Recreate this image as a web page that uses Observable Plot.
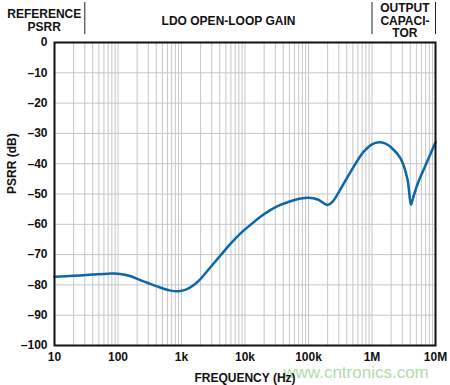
<!DOCTYPE html>
<html>
<head>
<meta charset="utf-8">
<script src="https://cdn.jsdelivr.net/npm/d3@7"></script>
<script src="https://cdn.jsdelivr.net/npm/@observablehq/plot@0.6"></script>
<style>
  html, body { margin: 0; padding: 0; background: #fff; }
  #chart svg { display: block; }
</style>
</head>
<body>
<div id="chart"></div>
<script>
// ---- data ----
const freq = [10, 20, 40, 70, 100, 150, 230, 400, 650, 900, 1200, 1600, 2000, 2900, 4100, 6000, 8500, 12000, 17500, 25000, 36000, 52000, 75000, 100000, 140000, 200000, 240000, 290000, 460000, 740000, 1000000, 1280000, 1600000, 1950000, 2800000, 3600000, 4100000, 4300000, 5200000, 7400000, 10000000];
const psrr = [-77.3, -77.0, -76.6, -76.3, -76.3, -77.0, -78.5, -80.4, -81.8, -82.1, -81.5, -79.9, -78.0, -74.0, -70.3, -66.3, -63.0, -60.3, -57.5, -55.3, -53.6, -52.4, -51.5, -51.2, -51.8, -53.6, -52.5, -49.9, -42.7, -36.0, -33.6, -32.9, -33.3, -34.4, -38.2, -44.9, -53.6, -52.3, -46.8, -39.3, -32.9];

const xTicks = [10, 100, 1e3, 1e4, 1e5, 1e6, 1e7];
const xTickLabels = ["10", "100", "1k", "10k", "100k", "1M", "10M"];
const yTicks = [0, -10, -20, -30, -40, -50, -60, -70, -80, -90, -100];
const yTickLabels = ["0", "–10", "–20", "–30", "–40", "–50", "–60", "–70", "–80", "–90", "–100"];

const regionBounds = [30, 1e6, 1e7];
const regionTitles = ["REFERENCE\nPSRR", "LDO OPEN-LOOP GAIN", "OUTPUT\nCAPACI-\nTOR"];
const regionCenters = [6.9, 5500, 3.3e6];

const xLabel = "FREQUENCY (Hz)";
const yLabel = "PSRR (dB)";
const watermark = "www.cntronics.com";

// ---- build ----
const data = freq.map((f, i) => ({f, v: psrr[i]}));
const xLabelMap = new Map(xTicks.map((t, i) => [t, xTickLabels[i]]));
const yLabelMap = new Map(yTicks.map((t, i) => [t, yTickLabels[i]]));
const minorGrid = [];
for (let k = 1; k <= 6; k++) for (let m = 1; m <= 9; m++) minorGrid.push(m * 10 ** k);
minorGrid.push(1e7);
const titles = regionTitles.map((t, i) => ({t, x: regionCenters[i]}));

const font = "'Liberation Sans', Arial, Helvetica, sans-serif";
const gridColor = "#c6c6c6";
const titleStyle = {x: "x", text: "t", frameAnchor: "top", dy: -22, lineAnchor: "middle", fontWeight: "bold", fontSize: "12px", fill: "#111"};

const chart = Plot.plot({
  width: 450,
  height: 385,
  marginLeft: 54,
  marginRight: 15,
  marginTop: 42,
  marginBottom: 40,
  x: {type: "log", domain: [10, 1e7]},
  y: {domain: [-100, 0]},
  style: {fontFamily: font, color: "#111", background: "#fff"},
  marks: [
    Plot.gridX(minorGrid, {stroke: gridColor, strokeOpacity: 1, strokeWidth: 1}),
    Plot.gridY(yTicks, {stroke: gridColor, strokeOpacity: 1, strokeWidth: 1}),
    Plot.axisX(xTicks, {tickSize: 0, tickPadding: 7, tickFormat: (d) => xLabelMap.get(d), label: null, fontWeight: "bold", fontSize: "12px", fill: "#111"}),
    Plot.axisY(yTicks, {tickSize: 0, tickPadding: 7, tickFormat: (d) => yLabelMap.get(d), label: null, fontWeight: "bold", fontSize: "12px", fill: "#111"}),
    Plot.text([watermark], {x: 5.6e5, frameAnchor: "bottom", dy: 27, fill: "#b2dcaa", fontSize: "17px", fontWeight: "normal", lineAnchor: "middle"}),
    Plot.text([xLabel], {frameAnchor: "bottom", dy: 33, lineAnchor: "middle", fontWeight: "bold", fontSize: "12px", fill: "#111"}),
    Plot.text([yLabel], {frameAnchor: "left", dx: -42, rotate: -90, lineAnchor: "middle", fontWeight: "bold", fontSize: "12px", fill: "#111"}),
    Plot.ruleX(regionBounds, {y1: 2.6, y2: 13.2, stroke: "#222", strokeWidth: 1}),
    Plot.text(titles.slice(0, 1), {...titleStyle, lineHeight: 1.1}),
    Plot.text(titles.slice(1), {...titleStyle, lineHeight: 1.04}),
    Plot.line(data, {x: "f", y: "v", stroke: "#0b68a8", strokeWidth: 2.5, curve: "catmull-rom"}),
    Plot.frame({stroke: "#111", strokeWidth: 2})
  ]
});
document.getElementById("chart").appendChild(chart);
</script>
</body>
</html>
